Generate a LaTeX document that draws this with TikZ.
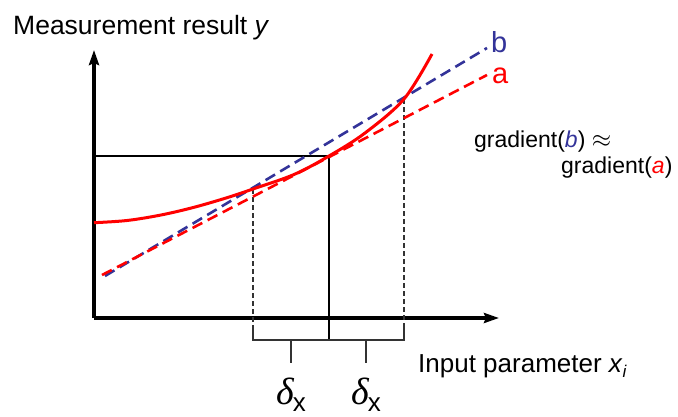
\documentclass[tikz,border=0pt]{standalone}
\usepackage{fontspec}
\setmainfont{Liberation Sans}
\newfontfamily\greekfont{Liberation Serif}
\usetikzlibrary{arrows.meta,calc}
\definecolor{gred}{HTML}{FF0000}
\definecolor{gblue}{HTML}{333399}
\definecolor{gdark}{HTML}{333333}
\newcommand{\dxlabel}{{\greekfont\itshape δ}\kern-1pt\raisebox{-7pt}{\fontsize{26}{26}\selectfont x}}

\begin{document}
\begin{tikzpicture}[x=1pt, y=-1pt,
  axis/.style={line width=3.2pt, -{Stealth[length=15pt, width=10pt, inset=2pt]}},
  frame/.style={line width=2.3pt},
  guide/.style={gdark, line width=1.1pt, dash pattern=on 5pt off 3pt},
  bracket/.style={gdark, line width=1.5pt},
  lineb/.style={gblue, line width=2.6pt, dash pattern=on 11pt off 6pt},
  linea/.style={gred, line width=2.6pt, dash pattern=on 11pt off 6pt},
  lbl/.style={inner sep=0pt, anchor=base west}]
\useasboundingbox (0,0) rectangle (678,416);
% ---------------- key points ----------------
\coordinate (O) at (94,318);
\coordinate (T) at (329,156);   % tangent point
\coordinate (P1) at (253,189);  % secant, left
\coordinate (P2) at (404,99);   % secant, right
% ---------------- axes ----------------
\draw[axis] (O) -- (94,50);
\draw[axis] (O) -- (499,318);
\node[lbl, font=\fontsize{26.5}{30}\selectfont] (ylab) at (13,34) {Measurement result \textit{y}};
\node[lbl, font=\fontsize{26}{30}\selectfont] (xlab) at (418,372)
  {Input parameter \textit{x}\raisebox{-5pt}{\fontsize{17}{17}\selectfont\textit{i}}};
% ---------------- working point ----------------
\draw[frame] (94,156) -- (T) -- (329,340);
\draw[guide] (P1) -- (253,325);
\draw[guide] (P2) -- (404,325);
% brackets for the two steps
\draw[bracket] (253,325) -- (253,340) -- (404,340) -- (404,325);
\foreach \m in {291,366}{\draw[bracket] (\m,340) -- (\m,363);}
\node[lbl, font=\fontsize{38}{40}\selectfont] (dxl) at (276,404) {\dxlabel};
\node[lbl, font=\fontsize{38}{40}\selectfont] (dxr) at (351,404) {\dxlabel};
% ---------------- lines and curve ----------------
\draw[lineb] (105,276) -- (487,48);
\draw[linea] (102,275) -- (487,75);
\draw[gred, line width=3pt] plot[smooth, tension=0.55] coordinates
  {(94,222.7) (127,220.5) (161,215) (194,207.3) (227,197.7) (P1) (294,174.5)
   (T) (365,133) (P2) (432,54)};
\node[lbl, gblue, font=\fontsize{29}{30}\selectfont] (bl) at (491,52) {b};
\node[lbl, gred, font=\fontsize{29}{30}\selectfont] (al) at (492,83) {a};
\node[lbl, font=\fontsize{23}{26}\selectfont] (gb) at (474,147)
  {gradient(\textcolor{gblue}{\textit{b}}) $\approx$};
\node[lbl, font=\fontsize{23}{26}\selectfont] (ga) at (561,173)
  {gradient(\textcolor{gred}{\textit{a}})};
\end{tikzpicture}
\end{document}
